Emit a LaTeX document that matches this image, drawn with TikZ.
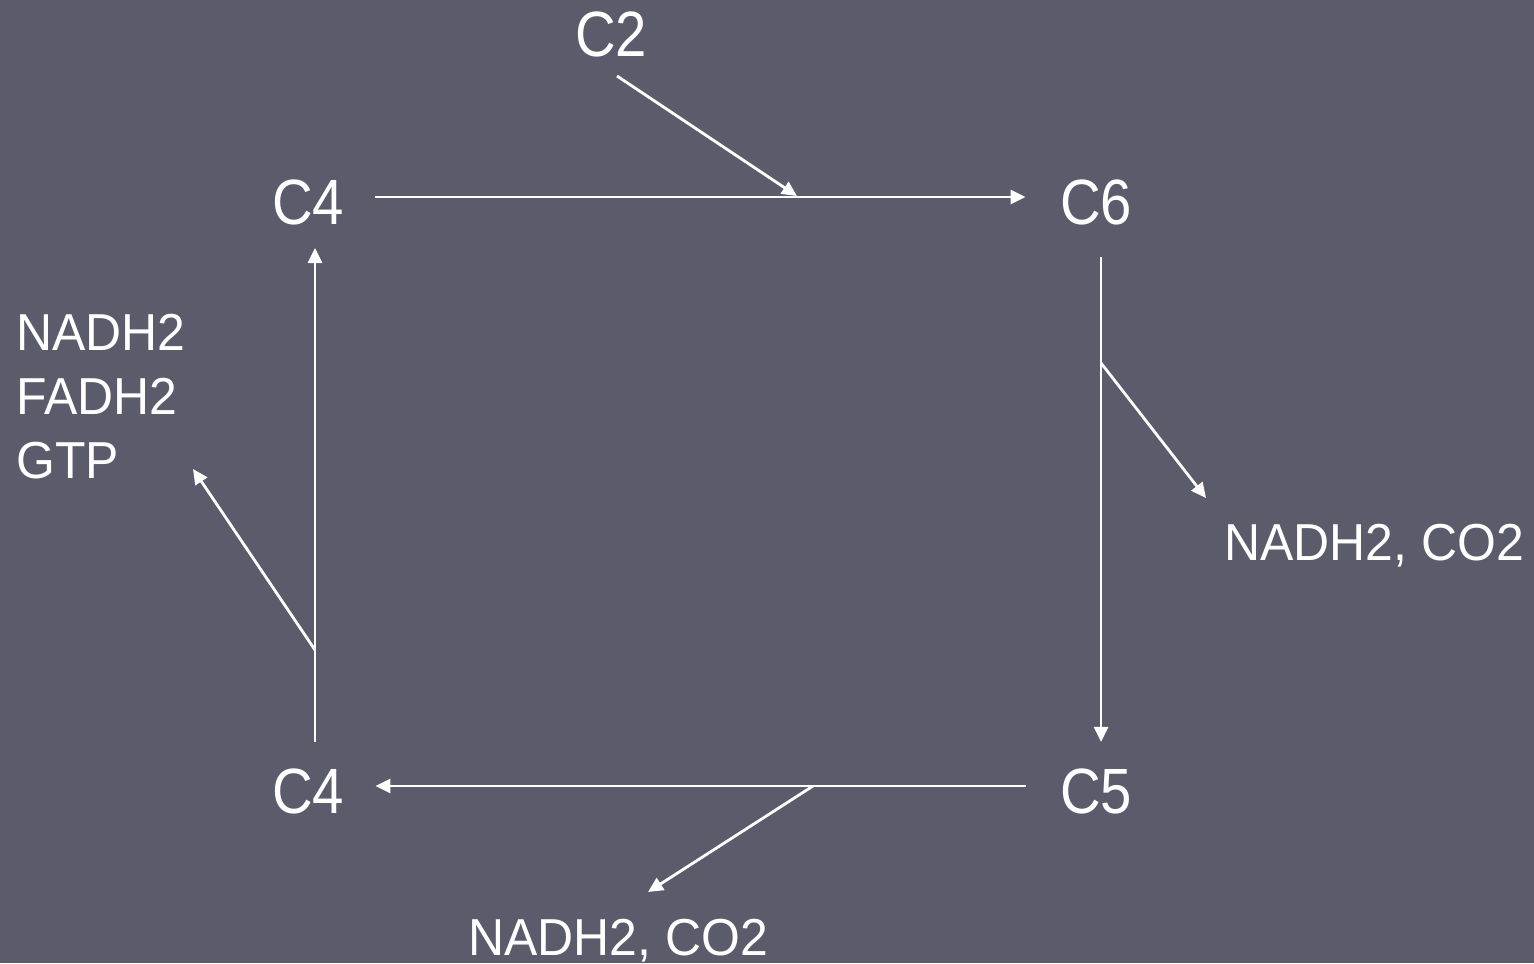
\documentclass[tikz,border=0pt]{standalone}
\usepackage{fontspec}
\usetikzlibrary{arrows.meta}
\newfontfamily\bigfont[FakeStretch=0.88]{Liberation Sans}
\newfontfamily\smallfont[FakeStretch=0.96]{Liberation Sans}
\definecolor{slate}{RGB}{90,91,107}
\tikzset{
  x=0.5pt, y=-0.5pt,
  big/.style={text=white, inner sep=0pt, font=\bigfont\fontsize{32}{38}\selectfont},
  small/.style={text=white, inner sep=0pt, font=\smallfont\fontsize{26}{32}\selectfont},
  arr/.style={draw=white, line width=1.4pt, -{Triangle[length=7.5pt,width=7pt]}},
  seg/.style={draw=white, line width=1.4pt}
}
\begin{document}
\begin{tikzpicture}
  % backdrop
  \fill[slate] (0,0) rectangle (1534,963);
  \useasboundingbox (0,0) rectangle (1534,963);

  % compounds of the cycle
  \node[big, anchor=base] (c2)  at (611,57)  {C2};
  \node[big, anchor=base] (c4t) at (308,224) {C4};
  \node[big, anchor=base] (c6)  at (1096,224) {C6};
  \node[big, anchor=base] (c4b) at (308,813) {C4};
  \node[big, anchor=base] (c5)  at (1096,813) {C5};

  % products
  \node[small, anchor=base west] (p1) at (16,350) {NADH2};
  \node[small, anchor=base west] (p2) at (16,414) {FADH2};
  \node[small, anchor=base west] (p3) at (16,478) {GTP};
  \node[small, anchor=base west] (pr) at (1224,560) {NADH2, CO2};
  \node[small, anchor=base west] (pb) at (468,955) {NADH2, CO2};

  % branch points on the cycle
  \coordinate (m1) at (797,196);
  \coordinate (m2) at (1101,363);
  \coordinate (m3) at (813,786);
  \coordinate (m4) at (315,650);

  % cycle
  \draw[arr] ([xshift=15.5pt,yshift=13.5pt]c4t.base east) -- ([xshift=-17pt,yshift=13.5pt]c6.base west);
  \draw[arr] ([xshift=2.5pt,yshift=-16.5pt]c6.base) -- ([xshift=2.5pt,yshift=13pt]c5.north);
  \draw[arr] ([xshift=-17pt,yshift=13.5pt]c5.base west) -- ([xshift=15.5pt,yshift=13.5pt]c4b.base east);
  \draw[arr] ([xshift=3.5pt,yshift=13pt]c4b.north) -- ([xshift=3.5pt,yshift=-12pt]c4t.base);

  % inputs and outputs
  \draw[arr] ([xshift=3pt,yshift=-9.5pt]c2.base) -- (m1);
  \draw[arr] (m2) -- ([xshift=-9pt,yshift=31pt]pr.base west);
  \draw[arr] (m3) -- ([xshift=90pt,yshift=31.5pt]pb.base west);
  \draw[arr] (m4) -- ([xshift=88.5pt,yshift=4.5pt]p3.base west);
\end{tikzpicture}
\end{document}
